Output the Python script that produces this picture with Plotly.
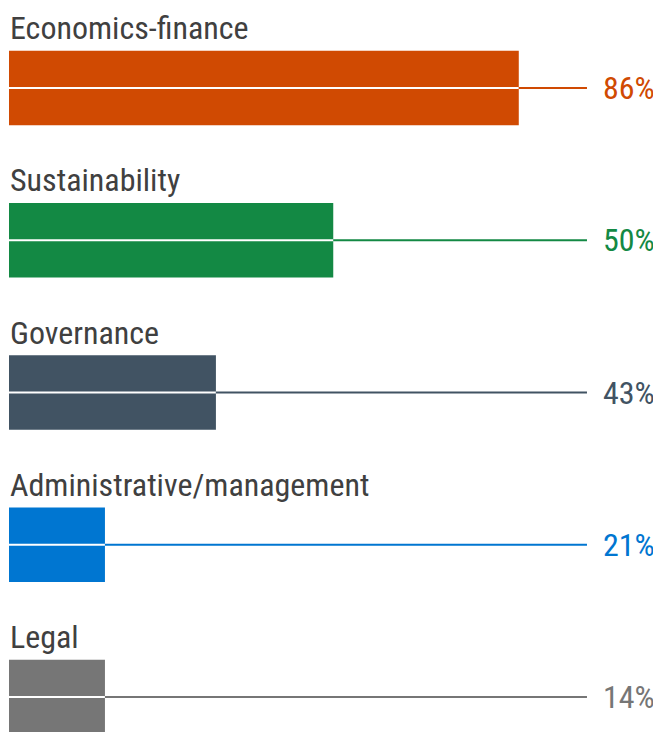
import plotly.graph_objects as go

# Data
categories = ["Economics-finance", "Sustainability", "Governance",
              "Administrative/management", "Legal"]
shares = [86, 50, 43, 21, 14]                   # printed percentages
bar_lengths = [88.2, 56.1, 35.8, 16.6, 16.6]     # drawn bar lengths (line end = 100)
colors = ["#D04A02", "#138944", "#415363", "#0076D1", "#767676"]

LINE_END = 100
FONT = "Roboto Condensed, Liberation Sans Narrow, Arial Narrow, DejaVu Sans Condensed, sans-serif"

fig = go.Figure()

for i, (cat, share, length, color) in enumerate(zip(categories, shares, bar_lengths, colors)):
    y = -i
    # bar
    fig.add_trace(go.Bar(
        x=[length], y=[y], base=0, orientation="h", width=0.49,
        marker=dict(color=color, line=dict(width=0)), showlegend=False, hoverinfo="skip"
    ))
    # white line across the bar
    fig.add_trace(go.Scatter(
        x=[0, length], y=[y, y], mode="lines",
        line=dict(color="white", width=2), showlegend=False, hoverinfo="skip"
    ))
    # coloured leader line to the label
    fig.add_trace(go.Scatter(
        x=[length, LINE_END], y=[y, y], mode="lines",
        line=dict(color=color, width=2), showlegend=False, hoverinfo="skip"
    ))
    # category label above the bar
    fig.add_annotation(
        x=0, y=y, text=cat, showarrow=False, xanchor="left", yanchor="middle",
        xshift=-1, yshift=60, font=dict(family=FONT, size=32, color="#404040")
    )
    # percentage label
    fig.add_annotation(
        x=1, xref="paper", y=y, text=f"{share}%", showarrow=False,
        xanchor="right", yanchor="middle", xshift=-12,
        font=dict(family=FONT, size=32, color=color)
    )

# page body adds an 8px offset, so the plot is shifted up/left to compensate
fig.update_layout(
    width=661, height=732,
    margin=dict(l=0, r=0, t=0, b=0),
    plot_bgcolor="white", paper_bgcolor="white",
    barmode="overlay",
    xaxis=dict(range=[-0.173, 114.19], visible=False, fixedrange=True),
    yaxis=dict(range=[-4.282, 0.5255], visible=False, fixedrange=True),
)

fig.write_html("out.html")
